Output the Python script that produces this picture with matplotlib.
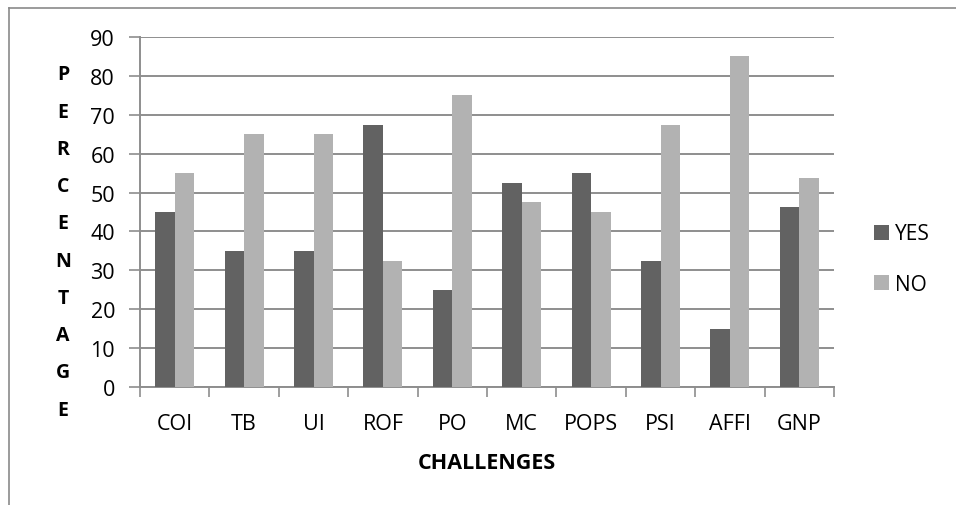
import numpy as np
import matplotlib
matplotlib.use("Agg")
import matplotlib.pyplot as plt
from matplotlib.lines import Line2D

challenges = ["COI", "TB", "UI", "ROF", "PO", "MC", "POPS", "PSI", "AFFI", "GNP"]
yes_pct = [45, 35, 35, 67.5, 25, 52.5, 55, 32.5, 15, 46.2]
no_pct = [55, 65, 65, 32.5, 75, 47.5, 45, 67.5, 85, 53.8]

DARK = "#626262"
LIGHT = "#b2b2b2"
GRID = "#8e8e8e"

plt.rcParams["font.family"] = ["Open Sans", "DejaVu Sans"]

fig = plt.figure(figsize=(9.56, 5.06), dpi=100)
ax = fig.add_axes([140 / 956, 1 - 388 / 506, (834 - 140) / 956, (388 - 38) / 506])

x = np.arange(len(challenges))
w = 0.28
ax.bar(x - w / 2, yes_pct, w, color=DARK, label="YES", zorder=3)
ax.bar(x + w / 2, no_pct, w, color=LIGHT, label="NO", zorder=3)

ax.set_xlim(-0.5, len(challenges) - 0.5)
ax.set_ylim(0, 90)
ax.set_yticks(range(0, 91, 10))
ax.yaxis.grid(True, color=GRID, linewidth=1.4, zorder=0)
ax.set_axisbelow(True)

# category boundaries carry the tick marks, labels sit at the centres
ax.set_xticks(np.arange(-0.5, len(challenges)), minor=False)
ax.set_xticklabels([])
ax.set_xticks(x, minor=True)
ax.set_xticklabels(challenges, minor=True)
ax.tick_params(axis="x", which="major", length=7, width=1.2, color=GRID, direction="out")
ax.tick_params(axis="x", which="minor", length=0, pad=19, labelsize=15.5)
ax.tick_params(axis="y", length=8, width=1.2, color=GRID, direction="out", pad=10, labelsize=15.5)

for side in ["top", "right"]:
    ax.spines[side].set_visible(False)
for side in ["left", "bottom"]:
    ax.spines[side].set_color(GRID)
    ax.spines[side].set_linewidth(1.4)

fig.text(487 / 956, 1 - 464 / 506, "CHALLENGES", ha="center", va="center",
         fontsize=15.5, fontweight="bold")
fig.text(63 / 956, 1 - 243 / 506, "\n".join("PERCENTAGE"), ha="center", va="center",
         fontsize=14, fontweight="bold", linespacing=2.15)

leg = fig.legend(loc="center left", bbox_to_anchor=(874 / 956, 1 - 260 / 506), frameon=False,
                 fontsize=15, handlelength=0.72, handleheight=0.72, handletextpad=0.3,
                 labelspacing=1.4, borderpad=0, borderaxespad=0)

# chart frame
fig.add_artist(Line2D([9 / 956, 9 / 956], [0, 1 - 9 / 506], color="#8a8a8a", linewidth=1.2,
                      transform=fig.transFigure))
fig.add_artist(Line2D([9 / 956, 1], [1 - 9 / 506, 1 - 9 / 506], color="#8a8a8a", linewidth=1.2,
                      transform=fig.transFigure))

fig.savefig("out.png", dpi=100, facecolor="white")
